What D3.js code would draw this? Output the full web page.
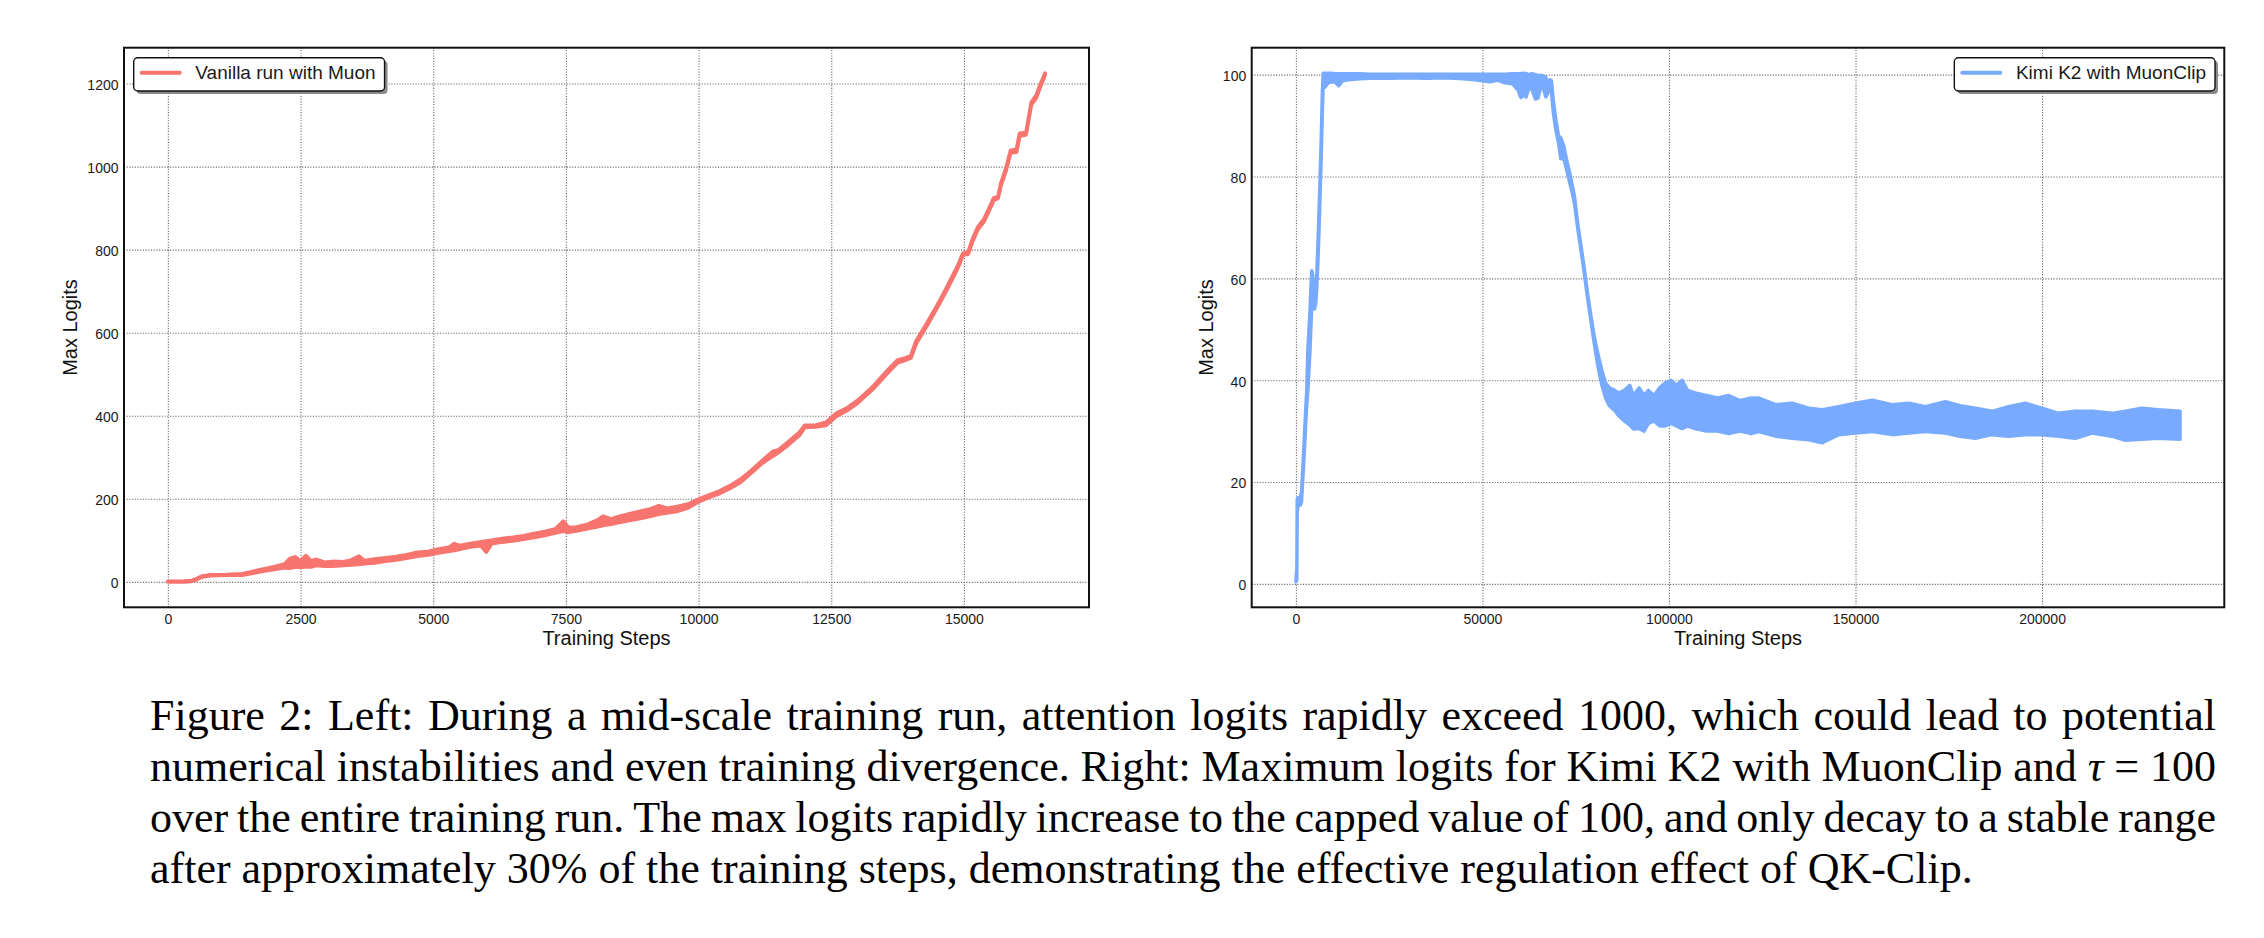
<!DOCTYPE html>
<html>
<head>
<meta charset="utf-8">
<script src="https://cdn.jsdelivr.net/npm/d3@7"></script>
<style>
    body { margin: 0; background: #fff; }
    svg { display: block; }
</style>
</head>
<body>
<div id="wrapper"></div>
<script>

// ---- data ----

// left panel: vanilla run with Muon, noise band per step (low / high edge)
const vanillaSteps = [
    0, 300, 450, 550, 650, 800, 1100, 1400, 1600, 1800,
    2000, 2200, 2300, 2400, 2500, 2600, 2700, 2800, 2950, 3100,
    3300, 3450, 3600, 3700, 3900, 4100, 4300, 4500, 4700, 4900,
    5100, 5300, 5400, 5500, 5700, 5900, 6000, 6100, 6300, 6500,
    6700, 6900, 7100, 7300, 7450, 7550, 7700, 7900, 8100, 8200,
    8350, 8500, 8700, 8900, 9100, 9250, 9400, 9600, 9800, 10000,
    10200, 10400, 10600, 10800, 11000, 11200, 11400, 11500, 11700, 11900,
    12000, 12200, 12400, 12600, 12800, 13000, 13300, 13550, 13750, 13900,
    14000, 14100, 14300, 14500, 14660, 14820, 14910, 14980, 15080, 15160,
    15260, 15380, 15510, 15560, 15640, 15700, 15790, 15880, 15990, 16050,
    16170, 16270, 16360, 16430, 16530
];
const vanillaLow = [
    0, 0, 1.5, 6, 12, 15, 16, 16.5, 21, 26,
    30, 34, 33, 36, 35, 37, 36, 40, 38, 38,
    40, 41, 42, 44, 46, 50, 53, 57, 62, 65,
    70, 74, 76, 79, 84, 87, 72, 92, 96, 99,
    103, 107, 112, 118, 122, 120, 123, 128, 133, 136,
    139, 143, 148, 153, 158, 163, 166, 170, 178, 193,
    204, 213, 226, 241, 263, 286, 303, 311, 331, 353,
    372, 373, 377, 399, 413, 431, 466, 501, 528, 534,
    539, 574, 616, 661, 699, 739, 763, 787, 789, 819,
    848, 868, 904, 919, 923, 956, 989, 1033, 1035, 1073,
    1077, 1149, 1165, 1189, 1221
];
const vanillaHigh = [
    1, 1.5, 3, 8, 14, 17, 17.5, 19, 25, 31,
    36, 43, 56, 60, 50, 63, 50, 54, 47, 49,
    48, 52, 62, 51, 55, 58, 61, 65, 71, 73,
    79, 83, 92, 87, 92, 96, 98, 100, 104, 107,
    111, 116, 121, 127, 146, 131, 132, 138, 149, 158,
    151, 157, 164, 170, 176, 183, 177, 181, 187, 199,
    209, 219, 232, 248, 269, 292, 314, 317, 338, 360,
    377, 377, 384, 406, 419, 437, 472, 508, 534, 539,
    545, 580, 622, 667, 705, 745, 769, 791, 794, 825,
    854, 874, 910, 924, 927, 961, 995, 1039, 1041, 1080,
    1082, 1155, 1171, 1195, 1225
];

// right panel: Kimi K2 with MuonClip
const kimiSteps = [
    0, 250, 350, 600, 1200, 1500, 1800, 2200, 2600, 2900,
    3200, 3500, 3800, 4000, 4250, 4450, 4700, 5000, 5300, 5600,
    6000, 6400, 6800, 7100, 7300, 7800, 8500, 9500, 10500, 11500,
    12500, 14000, 17000, 20000, 25000, 30000, 35000, 40000, 45000, 48000,
    50000, 52000, 54000, 56000, 58000, 59500, 60300, 61000, 61700, 62500,
    63300, 64200, 64900, 65600, 66300, 67000, 67600, 68100, 68500, 69000,
    69700, 70400, 71000, 71800, 72500, 73300, 74000, 74700, 75500, 76400,
    77300, 78000, 79000, 80000, 81000, 82000, 83000, 84000, 85500, 86500,
    88000, 89500, 90500, 92000, 93300, 94500, 96000, 97500, 99000, 100500,
    102000, 103500, 105000, 107000, 110000, 113000, 116000, 119000, 122000, 124100,
    128600, 133000, 137500, 141100, 145500, 150000, 154500, 159800, 164300, 168700,
    174100, 178000, 182100, 186600, 191000, 195500, 200000, 204400, 208900, 213400,
    218700, 222300, 226800, 231200, 237000
];
const kimiLow = [
    0.4, 0.8, 14, 15.5, 15.5, 16, 20, 25, 31, 35,
    38, 42, 46, 50, 54, 57, 55, 54, 55, 58,
    65, 74, 84, 93, 97.5, 97.5, 98.3, 98.6, 98.5, 97.8,
    98.8, 99, 99.2, 99.3, 99.3, 99.4, 99.3, 99.4, 99.2, 99.0,
    98.8, 98.6, 98.9, 98.4, 98.2, 97.0, 95.5, 96.0, 95.6, 97.5,
    97.0, 95.2, 95.4, 97.5, 97.3, 95.6, 96.5, 97.5, 96.5, 92.5,
    89, 86.5, 83.5, 83.5, 81.5, 79, 77, 74.5, 70, 65.5,
    61, 57, 52, 47, 42.5, 39, 36.5, 35, 34, 33,
    32, 31.2, 30.4, 30.5, 30, 31.5, 32, 31, 31, 31.5,
    31, 30.5, 31, 30.5, 30, 30, 29.5, 30, 29.5, 29.9,
    29.0, 28.6, 28.3, 27.7, 29.3, 29.6, 29.9, 29.3, 29.6, 29.9,
    29.6, 29.0, 28.6, 29.3, 29.0, 29.3, 29.3, 29.0, 28.6, 29.6,
    29.0, 28.2, 28.4, 28.6, 28.4
];
const kimiHigh = [
    0.8, 3, 16.5, 17, 17, 18, 22, 28, 34, 38,
    46, 50, 54, 58, 61.5, 61, 58, 57, 58, 61,
    69, 78, 88, 97, 100.3, 100.3, 100.3, 100.3, 100.2, 100.2,
    100.2, 100.2, 100.2, 100.1, 100.1, 100.1, 100.1, 100.1, 100.1, 100.1,
    100.1, 100.1, 100.1, 100.1, 100.2, 100.2, 100.2, 100.3, 100.2, 100.0,
    100.2, 100.0, 99.8, 99.9, 99.8, 99.5, 98.0, 99.0, 98.8, 95,
    91, 88, 87.6, 86, 83.5, 81, 78.5, 76, 71, 66.5,
    62, 58, 53, 48.5, 45, 42, 39.5, 38.5, 38, 37.5,
    38, 39, 37, 38.5, 37, 38, 37, 38.5, 39.5, 40,
    39, 40, 38, 37.5, 37, 36.5, 37, 36, 36.5, 36.5,
    35.2, 35.5, 34.5, 34.2, 34.8, 35.5, 36.1, 35.2, 35.5, 34.8,
    35.8, 35.0, 34.5, 33.9, 34.8, 35.5, 34.5, 33.5, 33.9, 33.9,
    33.5, 33.9, 34.5, 34.2, 33.9
];

const vanillaXTicks = [0, 2500, 5000, 7500, 10000, 12500, 15000];
const vanillaYTicks = [0, 200, 400, 600, 800, 1000, 1200];
const kimiXTicks = [0, 50000, 100000, 150000, 200000];
const kimiYTicks = [0, 20, 40, 60, 80, 100];

const captionLines = [
    "Figure 2: Left: During a mid-scale training run, attention logits rapidly exceed 1000, which could lead to potential",
    "numerical instabilities and even training divergence. Right: Maximum logits for Kimi K2 with MuonClip and τ = 100",
    "over the entire training run. The max logits rapidly increase to the capped value of 100, and only decay to a stable range",
    "after approximately 30% of the training steps, demonstrating the effective regulation effect of QK-Clip."
];

// ---- canvas ----

const sansFont = "'Liberation Sans', Arial, Helvetica, sans-serif";
const serifFont = "'Liberation Serif', 'Times New Roman', serif";

const wrapper = d3.select("#wrapper")
                    .append("svg")
                        .attr("width", 2264)
                        .attr("height", 938);

// matplotlib style 5% margins around the data
const padded = function([lo, hi]) {
    const pad = (hi - lo) * 0.05;
    return [lo - pad, hi + pad];
}

function drawPanel(cfg) {

    const dms = cfg.frame;
    const n = cfg.steps.length;

    const xScale = d3.scaleLinear()
                    .domain(padded(d3.extent(cfg.steps)))
                    .range([dms.left, dms.right]);

    const yScale = d3.scaleLinear()
                    .domain(padded([d3.min(cfg.low), d3.max(cfg.high)]))
                    .range([dms.bottom, dms.top]);

    const panel = wrapper.append("g");

    // grid

    const xGrid = panel.append("g")
                    .attr("transform", `translate(0, ${dms.bottom})`)
                    .call(d3.axisBottom(xScale)
                            .tickValues(cfg.xTicks)
                            .tickSize(-(dms.bottom - dms.top))
                            .tickFormat(""));
    const yGrid = panel.append("g")
                    .attr("transform", `translate(${dms.left}, 0)`)
                    .call(d3.axisLeft(yScale)
                            .tickValues(cfg.yTicks)
                            .tickSize(-(dms.right - dms.left))
                            .tickFormat(""));
    [xGrid, yGrid].forEach(g => {
        g.select(".domain").remove();
        g.selectAll(".tick line")
            .attr("stroke", "#666")
            .attr("stroke-width", 1.1)
            .attr("stroke-dasharray", "1.1,1.6");
    });

    // data

    const area = d3.area()
                    .x(i => xScale(cfg.steps[i]))
                    .y0(i => yScale(cfg.low[i]))
                    .y1(i => yScale(cfg.high[i]));

    panel.append("path")
        .datum(d3.range(n))
        .attr("d", area)
        .attr("fill", cfg.color)
        .attr("stroke", cfg.color)
        .attr("stroke-width", cfg.lineWidth)
        .attr("stroke-linejoin", "round")
        .attr("stroke-linecap", "round");

    // tick labels

    const xAxis = panel.append("g")
                    .attr("transform", `translate(0, ${dms.bottom})`)
                    .call(d3.axisBottom(xScale)
                            .tickValues(cfg.xTicks)
                            .tickSize(0)
                            .tickPadding(6.8)
                            .tickFormat(d3.format("d")));
    const yAxis = panel.append("g")
                    .attr("transform", `translate(${dms.left}, 0)`)
                    .call(d3.axisLeft(yScale)
                            .tickValues(cfg.yTicks)
                            .tickSize(0)
                            .tickPadding(5.5)
                            .tickFormat(d3.format("d")));
    [xAxis, yAxis].forEach(g => {
        g.select(".domain").remove();
        g.attr("font-family", sansFont)
         .attr("font-size", 14)
         .style("color", "#1a1a1a");
    });
    yAxis.selectAll("text").attr("dy", "0.42em");

    // frame

    panel.append("rect")
        .attr("x", dms.left)
        .attr("y", dms.top)
        .attr("width", dms.right - dms.left)
        .attr("height", dms.bottom - dms.top)
        .attr("fill", "none")
        .attr("stroke", "#111")
        .attr("stroke-width", 2);

    // axis labels

    panel.append("text")
        .attr("x", (dms.left + dms.right) / 2)
        .attr("y", 645)
        .attr("text-anchor", "middle")
        .attr("font-family", sansFont)
        .attr("font-size", 20)
        .attr("fill", "#111")
        .text("Training Steps");

    panel.append("text")
        .attr("transform", `translate(${cfg.yLabelX}, ${(dms.top + dms.bottom) / 2}) rotate(-90)`)
        .attr("text-anchor", "middle")
        .attr("font-family", sansFont)
        .attr("font-size", 20)
        .attr("fill", "#111")
        .text("Max Logits");

    // legend

    const legend = panel.append("g");
    const boxY = 57.7;
    const boxH = 33.3;

    const label = legend.append("text")
                    .attr("y", boxY + 21.6)
                    .attr("font-family", sansFont)
                    .attr("font-size", 19)
                    .attr("fill", "#1a1a1a")
                    .text(cfg.label);
    const labelWidth = label.node().getComputedTextLength();
    const boxW = 61.6 + labelWidth + 9;
    const boxX = cfg.legendSide === "left" ? dms.left + 9.7 : dms.right - 9.3 - boxW;

    legend.insert("rect", "text")
        .attr("x", boxX + 3)
        .attr("y", boxY + 3)
        .attr("width", boxW)
        .attr("height", boxH)
        .attr("rx", 4)
        .attr("fill", "#8a8a8a");
    legend.insert("rect", "text")
        .attr("x", boxX)
        .attr("y", boxY)
        .attr("width", boxW)
        .attr("height", boxH)
        .attr("rx", 4)
        .attr("fill", "#fff")
        .attr("stroke", "#111")
        .attr("stroke-width", 1.4);
    legend.append("line")
        .attr("x1", boxX + 8)
        .attr("x2", boxX + 46)
        .attr("y1", boxY + 15)
        .attr("y2", boxY + 15)
        .attr("stroke", cfg.color)
        .attr("stroke-width", 4)
        .attr("stroke-linecap", "round");
    label.attr("x", boxX + 61.6);
}

drawPanel({
    frame: { left: 124, right: 1089, top: 47.7, bottom: 607.3 },
    steps: vanillaSteps,
    low: vanillaLow,
    high: vanillaHigh,
    color: "#f7746f",
    lineWidth: 3.8,
    xTicks: vanillaXTicks,
    yTicks: vanillaYTicks,
    label: "Vanilla run with Muon",
    legendSide: "left",
    yLabelX: 77
});

drawPanel({
    frame: { left: 1251.7, right: 2224.3, top: 47.7, bottom: 607.3 },
    steps: kimiSteps,
    low: kimiLow,
    high: kimiHigh,
    color: "#78aafe",
    lineWidth: 3.4,
    xTicks: kimiXTicks,
    yTicks: kimiYTicks,
    label: "Kimi K2 with MuonClip",
    legendSide: "right",
    yLabelX: 1213
});

// ---- caption, justified word by word ----

const captionLeft = 150;
const captionWidth = 2066;
const captionSize = 44;
const captionGroup = wrapper.append("g")
                        .attr("font-family", serifFont)
                        .attr("font-size", captionSize)
                        .attr("fill", "#000");

captionLines.forEach((line, li) => {
    const words = line.split(" ");
    const text = captionGroup.append("text")
                    .attr("y", 730 + li * 51);
    const spans = words.map(w => text.append("tspan")
                                    .style("font-style", w === "τ" ? "italic" : "normal")
                                    .text(w));
    const widths = spans.map(s => s.node().getComputedTextLength());
    const total = d3.sum(widths);
    const justify = li < captionLines.length - 1;
    const gap = justify ? (captionWidth - total) / (words.length - 1) : captionSize * 0.25;
    let x = captionLeft;
    spans.forEach((s, i) => {
        s.attr("x", x);
        x += widths[i] + gap;
    });
});

</script>
</body>
</html>
